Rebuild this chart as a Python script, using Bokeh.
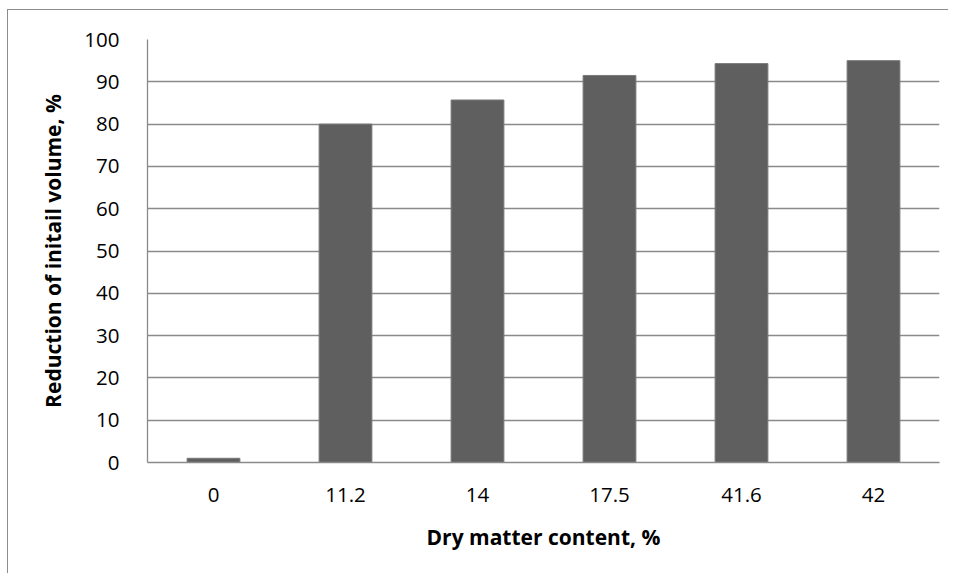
from bokeh.plotting import figure
from bokeh.models import Range1d, FactorRange
from bokeh.embed import file_html
from bokeh.resources import INLINE

categories = ["0", "11.2", "14", "17.5", "41.6", "42"]
values = [1.0, 80.0, 85.7, 91.5, 94.3, 95.0]
y_ticks = [0, 10, 20, 30, 40, 50, 60, 70, 80, 90, 100]

FONT = "Open Sans"
GRID = "#8a8a8a"

p = figure(width=941, height=564, output_backend="svg", toolbar_location=None,
           x_range=FactorRange(factors=categories), y_range=Range1d(0, 100),
           min_border_left=139, min_border_top=29, min_border_right=10, min_border_bottom=112)
p.styles = {"margin-left": "7px", "margin-top": "9px",
            "border-left": "1px solid #8c8c8c", "border-top": "1px solid #8c8c8c"}

p.vbar(x=categories, top=values, width=0.4, fill_color="#5f5f5f", line_color="#7a7a7a", line_width=1)

p.outline_line_color = None
p.xgrid.grid_line_color = None
p.ygrid.grid_line_color = GRID
p.ygrid.grid_line_width = 1.3
p.yaxis.ticker = y_ticks

for ax in (p.xaxis, p.yaxis):
    ax.axis_line_color = GRID
    ax.axis_line_width = 1.3
    ax.major_tick_line_color = None
    ax.minor_tick_line_color = None
    ax.major_tick_out = 0
    ax.major_tick_in = 0
    ax.major_label_text_font = FONT
    ax.major_label_text_font_size = "20.5px"
    ax.major_label_text_color = "#000000"
    ax.axis_label_text_font = FONT
    ax.axis_label_text_font_style = "bold"
    ax.axis_label_text_font_size = "21px"
    ax.axis_label_text_color = "#000000"

p.xaxis.axis_label = "Dry matter content, %"
p.yaxis.axis_label = "Reduction of initail volume, %"
p.xaxis.major_label_standoff = 25
p.xaxis.axis_label_standoff = 18
p.yaxis.major_label_standoff = 28
p.yaxis.axis_label_standoff = 14

open("out.html", "w").write(file_html(p, INLINE))
